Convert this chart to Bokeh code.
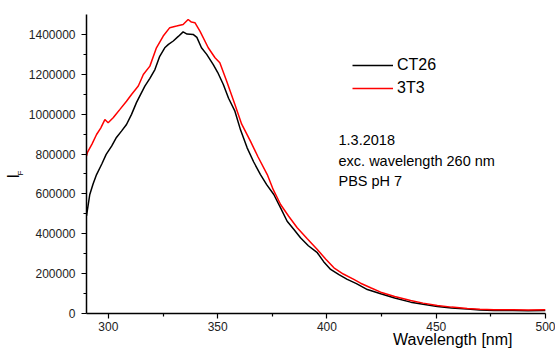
from bokeh.plotting import figure
from bokeh.models import (Range1d, FixedTicker, BasicTickFormatter, Label, Legend, LegendItem, Title)
from bokeh.embed import file_html
from bokeh.resources import INLINE

# CT26 (black)
ct26_wl = [290, 291.5, 293, 294.6, 297, 299, 301.5, 303.7, 306, 308.3, 310.6, 312.9, 316.7, 319,
           321.3, 323.5, 325.8, 327.5, 329.7, 332, 334.2, 336, 338.8, 340.5, 342.6, 345, 348, 350,
           352.6, 355, 357.9, 360.5, 363.5, 366.5, 369.6, 372.5, 375.7, 378.8, 381.8, 385, 387.9,
           391.5, 395.6, 398.5, 401.7, 405.5, 409.3, 413.5, 418.5, 424.6, 431, 438.3, 444, 450.5,
           457, 464.2, 470, 476.4, 485, 492, 500]
ct26_if = [490e3, 597e3, 650e3, 697e3, 750e3, 798e3, 840e3, 883e3, 915e3, 948e3, 999e3, 1059e3,
           1141e3, 1180e3, 1224e3, 1290e3, 1333e3, 1350e3, 1367e3, 1390e3, 1413e3, 1402e3, 1400e3,
           1385e3, 1333e3, 1300e3, 1249e3, 1210e3, 1149e3, 1080e3, 1015e3, 920e3, 831e3, 760e3,
           697e3, 645e3, 597e3, 530e3, 463e3, 420e3, 380e3, 340e3, 305e3, 260e3, 221e3, 195e3,
           171e3, 150e3, 120e3, 99e3, 78e3, 57e3, 46e3, 35e3, 28e3, 22e3, 18e3, 15e3, 15e3, 14e3, 15e3]

# 3T3 (red)
t3_wl = [290, 290.5, 292.5, 294.6, 296.5, 298.4, 299.9, 302.2, 303.5, 305.3, 308.3, 310.6, 313.7,
         316, 319, 322, 325.1, 328.1, 331.2, 334.2, 336.5, 338, 339.6, 341.9, 345.7, 348.8, 351,
         354.1, 357.9, 361, 365, 368.5, 372.7, 375.5, 378.8, 382.5, 386.4, 391, 395.6, 399.5,
         403.2, 407.5, 412.3, 415.4, 420, 424.6, 431, 438.3, 444, 450.5, 457, 464.2, 470, 476.4,
         485, 492, 500]
t3_if = [790e3, 810e3, 850e3, 898e3, 930e3, 973e3, 957e3, 982e3, 1000e3, 1024e3, 1065e3, 1099e3,
         1141e3, 1199e3, 1241e3, 1333e3, 1392e3, 1434e3, 1442e3, 1450e3, 1475e3, 1462e3, 1459e3,
         1417e3, 1333e3, 1283e3, 1258e3, 1166e3, 1049e3, 950e3, 865e3, 785e3, 697e3, 620e3, 547e3,
         488e3, 430e3, 375e3, 321e3, 272e3, 229e3, 198e3, 171e3, 152e3, 129e3, 107e3, 85e3, 65e3,
         52e3, 40e3, 32e3, 25e3, 21e3, 19e3, 19e3, 18e3, 19e3]

x_ticks = [300, 350, 400, 450, 500]
x_minor = [325, 375, 425, 475]
y_ticks = [0, 200000, 400000, 600000, 800000, 1000000, 1200000, 1400000]
y_minor = [100000, 300000, 500000, 700000, 900000, 1100000, 1300000]

notes = ["1.3.2018", "exc. wavelength 260 nm", "PBS pH 7"]

FONT = "Liberation Sans"

p = figure(width=555, height=352, output_backend="svg", toolbar_location=None,
           x_range=Range1d(290, 500), y_range=Range1d(0, 1500000),
           min_border_left=86, min_border_right=10, min_border_top=14, min_border_bottom=39,
           x_axis_location="below", y_axis_location="left")
p.outline_line_color = None
p.xgrid.visible = False
p.ygrid.visible = False
p.background_fill_color = "white"
p.border_fill_color = "white"

r1 = p.line(ct26_wl, ct26_if, line_color="black", line_width=1.5)
r2 = p.line(t3_wl, t3_if, line_color="#ff0000", line_width=1.5)

for ax in (p.xaxis[0], p.yaxis[0]):
    ax.axis_line_color = "black"
    ax.axis_line_width = 1.5
    ax.major_tick_line_color = "black"
    ax.minor_tick_line_color = "black"
    ax.major_tick_line_width = 1.2
    ax.minor_tick_line_width = 1.2
    ax.major_tick_in = 0
    ax.major_tick_out = 5
    ax.minor_tick_in = 0
    ax.minor_tick_out = 3
    ax.major_label_text_font = FONT
    ax.major_label_text_font_size = "12px"
    ax.major_label_text_color = "#222222"

p.xaxis[0].ticker = FixedTicker(ticks=x_ticks, minor_ticks=x_minor)
p.yaxis[0].ticker = FixedTicker(ticks=y_ticks, minor_ticks=y_minor)
p.yaxis[0].formatter = BasicTickFormatter(use_scientific=False)
p.xaxis[0].major_label_standoff = 3
p.yaxis[0].major_label_standoff = 6

# x-axis label, right-aligned under the axis
p.add_layout(Title(text="Wavelength [nm]", align="right", offset=33, standoff=-6,
                   vertical_align="top",
                   text_font=FONT, text_font_size="16px", text_font_style="normal",
                   text_color="black"), "below")
# y-axis label I with subscript F
p.add_layout(Title(text="F", align="left", offset=138, standoff=1.8,
                   vertical_align="bottom",
                   text_font=FONT, text_font_size="8px", text_font_style="normal",
                   text_color="black"), "left")
p.add_layout(Title(text="I", align="left", offset=135, standoff=-19.6,
                   vertical_align="bottom",
                   text_font=FONT, text_font_size="16px", text_font_style="normal",
                   text_color="black"), "left")

# notes
note_y = [868000, 767000, 667000]
for t, yy in zip(notes, note_y):
    p.add_layout(Label(x=405.3, y=yy, text=t, text_font=FONT, text_font_size="14.5px",
                       text_color="black", text_align="left", text_baseline="alphabetic"))

legend = Legend(items=[LegendItem(label="CT26", renderers=[r1]),
                       LegendItem(label="3T3", renderers=[r2])],
                location=(266, 215), orientation="vertical")
legend.border_line_color = None
legend.background_fill_alpha = 0
legend.padding = 0
legend.margin = 0
legend.spacing = 3
legend.glyph_width = 41
legend.glyph_height = 20
legend.label_height = 20
legend.label_standoff = 4
legend.label_text_font = FONT
legend.label_text_font_size = "16px"
legend.label_text_color = "black"
p.add_layout(legend)

open("out.html", "w").write(file_html(p, INLINE))
